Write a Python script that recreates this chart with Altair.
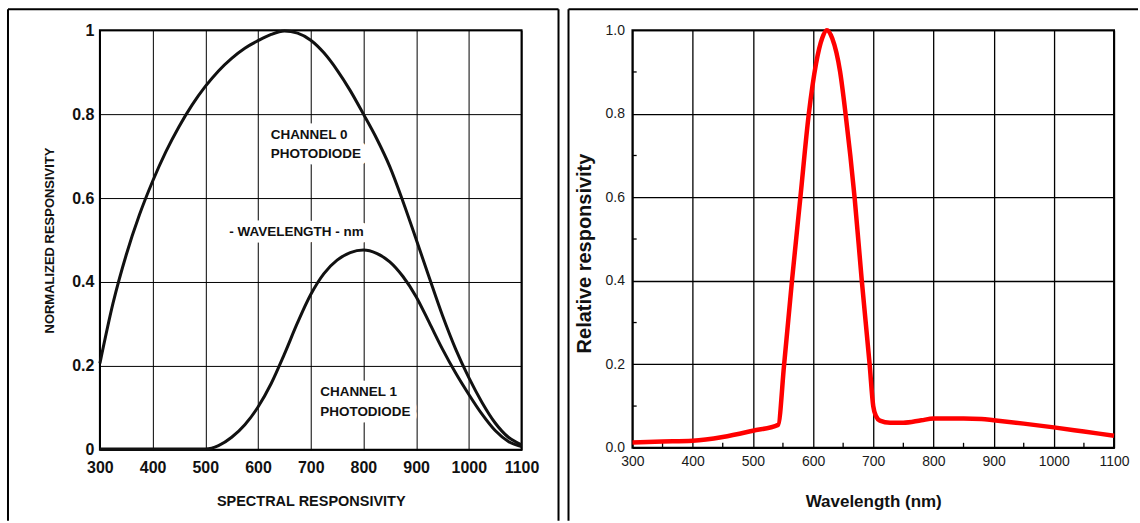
import altair as alt
import pandas as pd

# ---------------- data ----------------
# Left panel: normalized responsivity of the two photodiodes
ch0_wl = [300, 325, 350, 375, 400, 425, 450, 475, 500, 525, 550, 575, 600, 625,
          650, 675, 700, 725, 750, 775, 800, 825, 850, 875, 900, 925, 950, 975,
          1000, 1025, 1050, 1075, 1100]
ch0_val = [0.206, 0.35, 0.465, 0.56, 0.64, 0.71, 0.77, 0.822, 0.866, 0.903, 0.933,
           0.957, 0.975, 0.99, 0.998, 0.993, 0.976, 0.946, 0.905, 0.856, 0.80,
           0.742, 0.675, 0.592, 0.502, 0.41, 0.32, 0.24, 0.172, 0.113, 0.064,
           0.03, 0.012]

ch1_wl = [300, 400, 500, 512, 525, 550, 575, 600, 625, 650, 675, 700, 725, 750,
          775, 800, 825, 850, 875, 900, 925, 950, 975, 1000, 1025, 1050, 1075, 1100]
ch1_val = [0.002, 0.002, 0.002, 0.004, 0.01, 0.03, 0.06, 0.102, 0.158, 0.228,
           0.303, 0.37, 0.42, 0.452, 0.47, 0.476, 0.468, 0.448, 0.413, 0.365,
           0.303, 0.24, 0.183, 0.132, 0.085, 0.046, 0.02, 0.008]

left_x_ticks = [300, 400, 500, 600, 700, 800, 900, 1000, 1100]
left_y_ticks = [0, 0.2, 0.4, 0.6, 0.8, 1.0]

ann_left_wl = [624, 624, 718, 718]
ann_left_v = [0.75, 0.706, 0.139, 0.091]
ann_left_txt = ["CHANNEL 0", "PHOTODIODE", "CHANNEL 1", "PHOTODIODE"]
ann_mid_wl = [673]
ann_mid_v = [0.52]
ann_mid_txt = ["- WAVELENGTH - nm"]

# Right panel: relative responsivity
red_wl = [300, 350, 400, 450, 500, 542, 552, 565, 579, 593, 605, 615, 623,
          632, 645, 654, 669, 681, 694, 700, 705, 711, 728, 750, 780, 800, 850,
          880, 900, 950, 1000, 1050, 1100]
red_val = [0.013, 0.015, 0.017, 0.026, 0.041, 0.055, 0.2, 0.4, 0.6, 0.8,
           0.92, 0.98, 1.0, 0.98, 0.9, 0.8, 0.6, 0.4, 0.2, 0.1, 0.075, 0.065,
           0.06, 0.06, 0.066, 0.07, 0.07, 0.069, 0.066, 0.058, 0.049, 0.039, 0.029]

right_x_ticks = [300, 400, 500, 600, 700, 800, 900, 1000, 1100]
right_y_ticks = [0.0, 0.2, 0.4, 0.6, 0.8, 1.0]
right_x_minor = [350, 450, 550, 650, 750, 850, 950, 1050]
right_y_minor = [0.1, 0.3, 0.5, 0.7, 0.9]

# ---------------- styling ----------------
BOLDF = "Liberation Sans, Arial, sans-serif"
SANS = "Liberation Sans, Arial, DejaVu Sans, sans-serif"

LW, LH = 422, 420
RW, RH = 482, 418

one = pd.DataFrame({"k": [0]})


def hrule(x, x2, y):
    return alt.Chart(one).mark_rule(color="black", strokeWidth=2).encode(
        x=alt.value(x), x2=alt.value(x2), y=alt.value(y))


def vrule(x, y, y2):
    return alt.Chart(one).mark_rule(color="black", strokeWidth=2).encode(
        x=alt.value(x), y=alt.value(y), y2=alt.value(y2))


# ---------------- left panel ----------------
xL = alt.X("wl:Q",
           scale=alt.Scale(domain=[300, 1100], nice=False, zero=False),
           axis=alt.Axis(values=left_x_ticks, format="d",
                         title="SPECTRAL RESPONSIVITY",
                         grid=True, gridColor="#000", gridWidth=1, gridOpacity=1,
                         ticks=False, domain=False, labelFlush=False,
                         labelOverlap=False,
                         labelFont=BOLDF, labelFontWeight="bold",
                         labelFontSize=16, labelColor="#111", labelPadding=10,
                         titleFont=BOLDF, titleFontWeight="bold",
                         titleFontSize=14.5, titleColor="#111",
                         titleY=52, titleBaseline="middle"))
yL = alt.Y("v:Q",
           scale=alt.Scale(domain=[0, 1], nice=False, zero=False),
           axis=alt.Axis(values=left_y_ticks, format=".1~f",
                         title="NORMALIZED RESPONSIVITY",
                         grid=True, gridColor="#000", gridWidth=1, gridOpacity=1,
                         ticks=False, domain=False, labelFlush=False,
                         labelOverlap=False,
                         labelFont=BOLDF, labelFontWeight="bold",
                         labelFontSize=16, labelColor="#111", labelPadding=6,
                         titleFont=BOLDF, titleFontWeight="bold",
                         titleFontSize=13, titleColor="#111",
                         titleX=-50, titleY=LH / 2, titleAngle=-90,
                         titleBaseline="middle"))

df0 = pd.DataFrame({"wl": ch0_wl, "v": ch0_val})
df1 = pd.DataFrame({"wl": ch1_wl, "v": ch1_val})
dfa = pd.DataFrame({"wl": ann_left_wl, "v": ann_left_v, "t": ann_left_txt})
dfm = pd.DataFrame({"wl": ann_mid_wl, "v": ann_mid_v, "t": ann_mid_txt})

line0 = alt.Chart(df0).mark_line(color="#111", strokeWidth=3,
                                 interpolate="monotone").encode(x=xL, y=yL)
line1 = alt.Chart(df1).mark_line(color="#111", strokeWidth=3,
                                 interpolate="monotone").encode(x="wl:Q", y="v:Q")


def ann(df, align, halo):
    kw = dict(align=align, baseline="middle", font=BOLDF, fontWeight="bold",
              fontSize=13.5)
    if halo:
        mk = alt.Chart(df).mark_text(color="white", stroke="white",
                                     strokeWidth=13, strokeJoin="round", **kw)
    else:
        mk = alt.Chart(df).mark_text(color="#111", **kw)
    return mk.encode(x="wl:Q", y="v:Q", text="t:N")


left = alt.layer(
    ann(dfa, "left", True), ann(dfm, "center", True),
    line0, line1,
    ann(dfa, "left", False), ann(dfm, "center", False),
    hrule(-92, 459, -21), vrule(-92, -21, 491), vrule(459, -21, 491),
).properties(width=LW, height=LH)

# ---------------- right panel ----------------
xR = alt.X("wl:Q",
           scale=alt.Scale(domain=[300, 1100], nice=False, zero=False),
           axis=alt.Axis(values=right_x_ticks, format="d",
                         title="Wavelength (nm)",
                         grid=True, gridColor="#000", gridWidth=1.3, gridOpacity=1,
                         ticks=False, domain=False, labelFlush=False,
                         labelOverlap=False,
                         labelFont=SANS, labelFontSize=14, labelColor="#1a1a1a",
                         labelPadding=7,
                         titleFont=SANS, titleFontWeight="bold", titleFontSize=17,
                         titleColor="#111", titleY=54, titleBaseline="middle"))
yR = alt.Y("v:Q",
           scale=alt.Scale(domain=[0, 1], nice=False, zero=False),
           axis=alt.Axis(values=right_y_ticks, format=".1f",
                         title="Relative responsivity",
                         grid=True, gridColor="#000", gridWidth=1.3, gridOpacity=1,
                         ticks=False, domain=False, labelFlush=False,
                         labelOverlap=False,
                         labelFont=SANS, labelFontSize=14, labelColor="#1a1a1a",
                         labelPadding=8,
                         titleFont=SANS, titleFontWeight="bold", titleFontSize=20,
                         titleColor="#111", titleX=-48, titleY=223,
                         titleAngle=-90, titleBaseline="middle"))

dfr = pd.DataFrame({"wl": red_wl, "v": red_val})
dfxm = pd.DataFrame({"wl": right_x_minor, "v": [0.0] * len(right_x_minor),
                     "v2": [0.012] * len(right_x_minor)})
dfym = pd.DataFrame({"v": right_y_minor, "wl": [300] * len(right_y_minor),
                     "wl2": [307] * len(right_y_minor)})

red = alt.Chart(dfr).mark_line(color="#ff0000", strokeWidth=4.5,
                               interpolate="monotone").encode(x=xR, y=yR)
xminor = alt.Chart(dfxm).mark_rule(color="#000", strokeWidth=1.3).encode(
    x="wl:Q", y="v:Q", y2="v2:Q")
yminor = alt.Chart(dfym).mark_rule(color="#000", strokeWidth=1.3).encode(
    y="v:Q", x="wl:Q", x2="wl2:Q")

right = alt.layer(
    xminor, yminor, red,
    hrule(-64, 506, -21), vrule(-64, -21, 491),
).properties(width=RW, height=RH)

chart = alt.hconcat(left, right, spacing=111, bounds="flush").properties(
    padding={"left": 6, "top": 7, "right": 0, "bottom": 0},
    background="white",
).configure_view(stroke="#000", strokeWidth=2)

chart.save("out.html", embed_options={"renderer": "svg", "actions": False})
